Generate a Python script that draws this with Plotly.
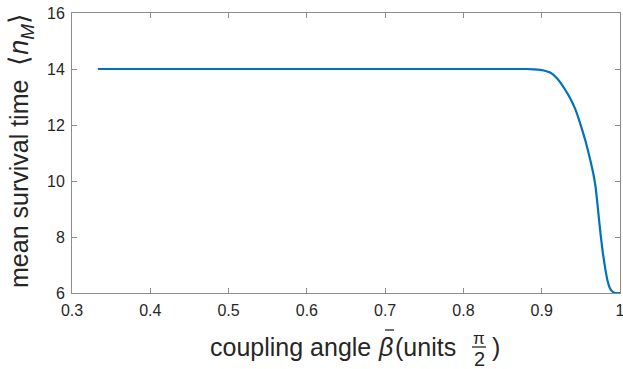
import plotly.graph_objects as go

# data
beta = [0.333, 0.40, 0.50, 0.60, 0.70, 0.80, 0.85, 0.88, 0.89, 0.90, 0.905, 0.91,
        0.915, 0.92, 0.925, 0.93, 0.936, 0.943, 0.949, 0.956, 0.962, 0.966, 0.969,
        0.972, 0.975, 0.978, 0.981, 0.984, 0.987, 0.990, 0.993, 0.996, 1.0]
survival = [14.0, 14.0, 14.0, 14.0, 14.0, 14.0, 14.0, 14.0, 13.99, 13.96, 13.93, 13.88,
            13.79, 13.65, 13.47, 13.26, 12.97, 12.56, 12.07, 11.42, 10.75, 10.25, 9.75,
            8.95, 8.15, 7.45, 6.90, 6.45, 6.18, 6.06, 6.01, 6.0, 6.0]

x_ticks = [0.3, 0.4, 0.5, 0.6, 0.7, 0.8, 0.9, 1.0]
x_tick_labels = ["0.3", "0.4", "0.5", "0.6", "0.7", "0.8", "0.9", "1"]
y_ticks = [6, 8, 10, 12, 14, 16]

FONT = "Liberation Sans, Arial, Helvetica, sans-serif"
TXT = "#262626"
AX = "#8c8c8c"

L, R, T, B = 72, 620, 13, 293
W, H = R - L, B - T


def px(xp):
    return (xp - L) / W


def py(yp):
    return (B - yp) / H


fig = go.Figure()
fig.add_trace(go.Scatter(x=beta, y=survival, mode="lines",
                         line=dict(color="#0072BD", width=2.2, shape="spline", smoothing=0.5),
                         showlegend=False, hoverinfo="skip", cliponaxis=False))

axis_common = dict(showgrid=False, zeroline=False, showline=True, linecolor=AX, linewidth=1,
                   mirror="ticks", ticks="inside", ticklen=5, tickcolor=AX, automargin=False,
                   ticklabelstandoff=3, ticklabeloverflow="allow",
                   tickfont=dict(family=FONT, size=16, color=TXT))

fig.update_layout(
    width=623, height=369,
    margin=dict(l=L, r=623 - R, t=T, b=369 - B, autoexpand=False),
    paper_bgcolor="white", plot_bgcolor="white",
    xaxis=dict(range=[0.3, 1.0], tickvals=x_ticks, ticktext=x_tick_labels, **axis_common),
    yaxis=dict(range=[6, 16], tickvals=y_ticks, **axis_common),
)

TY = 347
FS = 25
# x-axis title pieces
fig.add_annotation(xref="paper", yref="paper", x=px(373), y=py(TY),
                   xanchor="right", yanchor="middle", showarrow=False,
                   text="coupling angle", font=dict(family=FONT, size=FS, color=TXT))
fig.add_annotation(xref="paper", yref="paper", x=px(376), y=py(TY),
                   xanchor="left", yanchor="middle", showarrow=False,
                   text="<i>β</i>", font=dict(family=FONT, size=FS, color=TXT))
fig.add_shape(type="line", xref="paper", yref="paper",
              x0=px(385), x1=px(394), y0=py(330), y1=py(330),
              line=dict(color=TXT, width=1.3))
fig.add_annotation(xref="paper", yref="paper", x=px(393), y=py(TY),
                   xanchor="left", yanchor="middle", showarrow=False,
                   text="(units", font=dict(family=FONT, size=FS, color=TXT))
fig.add_annotation(xref="paper", yref="paper", x=px(479), y=py(338),
                   xanchor="center", yanchor="middle", showarrow=False,
                   text="π", font=dict(family=FONT, size=17, color=TXT))
fig.add_annotation(xref="paper", yref="paper", x=px(479), y=py(359),
                   xanchor="center", yanchor="middle", showarrow=False,
                   text="2", font=dict(family=FONT, size=20, color=TXT))
fig.add_annotation(xref="paper", yref="paper", x=px(490), y=py(TY),
                   xanchor="left", yanchor="middle", showarrow=False,
                   text=")", font=dict(family=FONT, size=FS, color=TXT))
fig.add_shape(type="line", xref="paper", yref="paper",
              x0=px(472), x1=px(486), y0=py(347), y1=py(347),
              line=dict(color=TXT, width=1.3))

# y-axis title
fig.add_annotation(xref="paper", yref="paper", x=-(L - 21) / W, y=py(151),
                   xanchor="center", yanchor="middle", showarrow=False, textangle=-90,
                   text="mean survival time  <span style='font-size:27px'>⟨<i>n</i><sub><i>M</i></sub>⟩</span>",
                   font=dict(family=FONT, size=FS, color=TXT))

fig.write_html("out.html", config={"displayModeBar": False},
               post_script="document.body.style.margin='0';document.body.style.padding='0';")
